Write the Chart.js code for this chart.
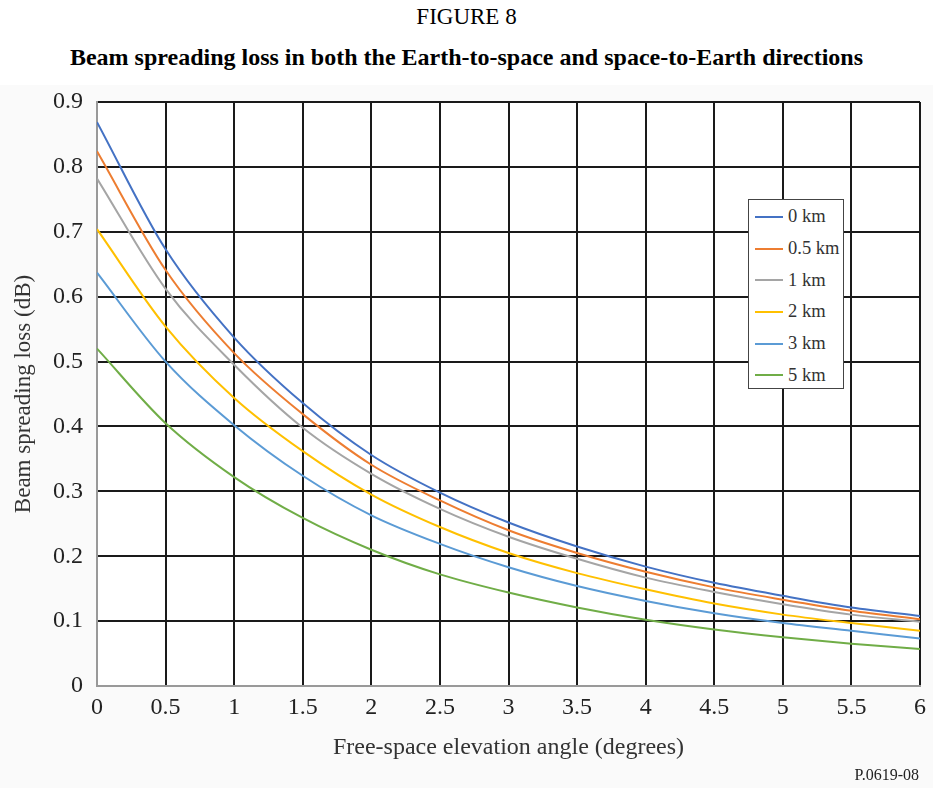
<!DOCTYPE html>
<html lang="en">

<head>
    <meta charset="UTF-8">
    <title>Beam spreading loss</title>
    <script src="https://cdn.jsdelivr.net/npm/chart.js@4.4.0/dist/chart.umd.min.js"></script>
    <style>
        body { margin: 0; background: #fff; font-family: "Liberation Serif", serif; }
        #page { position: relative; width: 933px; height: 788px; overflow: hidden; }
        #fig { position: absolute; top: 3px; width: 933px; text-align: center; font-size: 23px; line-height: 28px; }
        #subtitle { position: absolute; top: 43px; width: 933px; text-align: center; font-size: 24px; line-height: 28px; font-weight: bold; }
        #panel { position: absolute; left: 0; top: 85px; width: 933px; height: 703px; background: #fafafa; }
        #chartBox { position: absolute; left: 0; top: 0; width: 933px; height: 788px; }
        #legend { position: absolute; left: 748px; top: 199px; width: 96px; height: 190px; background: #fff;
            border: 1px solid #444; box-sizing: border-box; padding-top: 1px; }
        .item { height: 31.7px; display: flex; align-items: center; font-size: 18.5px; color: #333; }
        .swatch { width: 28px; height: 2px; margin-left: 6px; margin-right: 5px; }
        #code { position: absolute; right: 14px; top: 766px; font-size: 16px; color: #222; }
    </style>
</head>

<body>
    <div id="page">
        <div id="panel"></div>
        <div id="fig">FIGURE 8</div>
        <div id="subtitle">Beam spreading loss in both the Earth-to-space and space-to-Earth directions</div>
        <div id="chartBox"><canvas id="myChart"></canvas></div>
        <div id="legend"></div>
        <div id="code">P.0619-08</div>
    </div>

<script>
    // elevation angle (degrees)
    const angles = [0, 0.5, 1, 1.5, 2, 2.5, 3, 3.5, 4, 4.5, 5, 5.5, 6];

    // beam spreading loss (dB), one array per station height
    const loss0km = [0.869, 0.673, 0.537, 0.436, 0.356, 0.298, 0.252, 0.215, 0.184, 0.159, 0.139, 0.121, 0.108];
    const loss05km = [0.824, 0.641, 0.513, 0.419, 0.341, 0.286, 0.240, 0.205, 0.176, 0.152, 0.133, 0.116, 0.103];
    const loss1km = [0.782, 0.612, 0.495, 0.398, 0.327, 0.273, 0.230, 0.196, 0.167, 0.145, 0.126, 0.110, 0.099];
    const loss2km = [0.704, 0.554, 0.444, 0.362, 0.295, 0.245, 0.205, 0.174, 0.149, 0.127, 0.110, 0.097, 0.085];
    const loss3km = [0.637, 0.500, 0.402, 0.324, 0.263, 0.219, 0.183, 0.154, 0.131, 0.112, 0.097, 0.085, 0.073];
    const loss5km = [0.520, 0.405, 0.322, 0.259, 0.210, 0.172, 0.144, 0.121, 0.102, 0.087, 0.075, 0.065, 0.057];

    const seriesNames = ["0 km", "0.5 km", "1 km", "2 km", "3 km", "5 km"];
    const seriesColors = ["#4472C4", "#ED7D31", "#A5A5A5", "#FFC000", "#5B9BD5", "#70AD47"];
    const seriesData = [loss0km, loss05km, loss1km, loss2km, loss3km, loss5km];

    const serif = "'Liberation Serif', 'Times New Roman', serif";

    const datasets = seriesData.map((vals, i) => ({
        label: seriesNames[i],
        data: vals.map((v, j) => ({ x: angles[j], y: v })),
        borderColor: seriesColors[i],
        backgroundColor: seriesColors[i],
        borderWidth: 2,
        pointRadius: 0,
        cubicInterpolationMode: 'monotone',
        fill: false
    }));

    // white plot background
    const plotBg = {
        id: 'plotBg',
        beforeDraw(chart) {
            const a = chart.chartArea;
            const ctx = chart.ctx;
            ctx.save();
            ctx.fillStyle = '#fff';
            ctx.fillRect(a.left, a.top, a.right - a.left, a.bottom - a.top);
            ctx.restore();
        }
    };

    const ctx = document.getElementById('myChart').getContext('2d');
    const myChart = new Chart(ctx, {
        type: 'line',
        data: { datasets: datasets },
        options: {
            responsive: true,
            maintainAspectRatio: false,
            animation: false,
            layout: { padding: { left: 10, top: 102, right: 11, bottom: 26 } },
            plugins: {
                legend: { display: false },
                tooltip: { enabled: false }
            },
            scales: {
                x: {
                    type: 'linear',
                    min: 0,
                    max: 6,
                    afterFit(scale) { scale.height = 76; },
                    ticks: {
                        stepSize: 0.5,
                        padding: 7,
                        color: '#222',
                        font: { family: serif, size: 24 },
                        maxRotation: 0,
                        callback: v => String(v)
                    },
                    grid: {
                        drawTicks: false,
                        lineWidth: 2,
                        color: c => c.tick && c.tick.value === 0 ? '#999' : '#1a1a1a'
                    },
                    border: { color: '#999', width: 2 },
                    title: {
                        display: true,
                        text: 'Free-space elevation angle (degrees)',
                        color: '#333',
                        font: { family: serif, size: 24 },
                        padding: 0
                    }
                },
                y: {
                    min: 0,
                    max: 0.9,
                    afterFit(scale) { scale.width = 87; },
                    ticks: {
                        stepSize: 0.1,
                        padding: 14,
                        color: '#222',
                        font: { family: serif, size: 24 },
                        callback: v => String(Math.round(v * 10) / 10)
                    },
                    grid: {
                        drawTicks: false,
                        lineWidth: 2,
                        color: c => c.tick && c.tick.value === 0 ? '#999' : '#1a1a1a'
                    },
                    border: { color: '#999', width: 2 },
                    title: {
                        display: true,
                        text: 'Beam spreading loss (dB)',
                        color: '#333',
                        font: { family: serif, size: 23 },
                        padding: 0
                    }
                }
            }
        },
        plugins: [plotBg]
    });

    // legend box built from the series
    const legend = document.getElementById('legend');
    seriesNames.forEach((name, i) => {
        const row = document.createElement('div');
        row.className = 'item';
        row.innerHTML = '<span class="swatch" style="background:' + seriesColors[i] + '"></span>' + name;
        legend.appendChild(row);
    });
</script>
</body>

</html>
